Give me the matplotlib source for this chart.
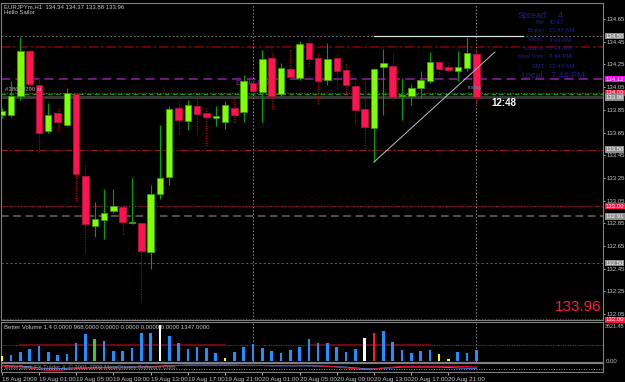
import numpy as np
import matplotlib
matplotlib.use("Agg")
from matplotlib import pyplot as plt
from matplotlib.transforms import blended_transform_factory

plt.rcParams['font.family'] = ['Liberation Sans', 'DejaVu Sans']

# EURJPYm, H1 bars from 18 Aug 2009 21:00 to 21 Aug 00:00
open_ = [133.80, 133.80, 133.97, 134.37, 134.07, 133.66, 133.82, 133.72, 133.99, 133.27,
         132.83, 132.88, 132.96, 132.99, 132.85, 132.85, 132.60, 133.11, 133.26, 133.87,
         133.75, 133.88, 133.82, 133.78, 133.74, 133.87, 133.83, 134.09, 134.01, 134.31,
         133.99, 134.21, 134.13, 134.44, 134.31, 134.11, 134.31, 134.20, 134.06, 133.86,
         133.69, 134.23, 134.24, 133.97, 133.97, 134.04, 134.10, 134.27, 134.23, 134.19,
         134.22, 134.34]
high = [133.87, 134.10, 134.49, 134.39, 134.14, 133.91, 133.87, 134.04, 134.00, 133.36,
        133.04, 133.15, 133.15, 133.00, 133.25, 132.86, 133.19, 133.72, 133.88, 133.94,
        133.94, 133.97, 133.87, 133.88, 133.93, 133.95, 134.16, 134.11, 134.38, 134.36,
        134.26, 134.39, 134.46, 134.51, 134.35, 134.44, 134.35, 134.26, 134.10, 134.11,
        134.22, 134.39, 134.35, 134.13, 134.08, 134.19, 134.36, 134.29, 134.26, 134.37,
        134.49, 134.37]
low = [133.78, 133.79, 133.94, 134.04, 133.48, 133.65, 133.66, 133.71, 133.05, 132.60,
       132.73, 132.71, 132.94, 132.76, 132.84, 132.16, 132.45, 133.06, 133.19, 133.64,
       133.67, 133.64, 133.53, 133.71, 133.68, 133.74, 133.74, 134.00, 133.74, 133.86,
       133.97, 134.13, 134.11, 134.24, 133.90, 134.07, 134.04, 133.96, 133.73, 133.51,
       133.39, 133.80, 133.94, 133.76, 133.89, 133.95, 134.09, 134.16, 134.19, 134.10,
       134.19, 133.88]
close = [133.84, 133.97, 134.37, 134.08, 133.65, 133.80, 133.74, 134.00, 133.28, 132.84,
         132.89, 132.94, 133.00, 132.86, 132.86, 132.61, 133.11, 133.25, 133.86, 133.76,
         133.89, 133.81, 133.79, 133.79, 133.89, 133.80, 134.10, 134.02, 134.30, 133.97,
         134.22, 134.14, 134.43, 134.30, 134.10, 134.30, 134.19, 134.07, 133.85, 133.70,
         134.21, 134.26, 133.96, 133.98, 134.04, 134.11, 134.27, 134.21, 134.20, 134.23,
         134.35, 133.96]

# Better Volume 1.4
volume = [500, 600, 930, 1200, 1500, 930, 600, 670, 1770, 2700,
          2200, 2030, 1030, 1000, 1330, 2830, 2770, 3600, 2530, 1830,
          1200, 1370, 1270, 830, 330, 900, 1430, 1670, 1330, 1030,
          770, 1100, 1430, 2170, 1850, 1770, 1430, 930, 1170, 2330,
          2770, 3000, 1930, 1100, 830, 1030, 1100, 670, 200, 870,
          830, 1100]
volume_kind = ['low', 'n', 'n', 'n', 'n', 'n', 'n', 'n', 'n', 'n',
               'churn', 'n', 'n', 'n', 'n', 'n', 'n', 'climax_dn', 'n', 'n',
               'n', 'n', 'n', 'n', 'low', 'n', 'n', 'n', 'n', 'n',
               'n', 'n', 'n', 'n', 'n', 'n', 'n', 'n', 'n', 'climax_dn',
               'climax_up', 'n', 'n', 'n', 'n', 'n', 'n', 'low', 'low', 'n',
               'n', 'n']
volume_avg = 1600
volume_max = 3621.45

# lower oscillator window
osc_red = [2.5, 2.5, 2.5, 1, -1, -2, -2, -1, 0, 0.5,
           1, 1, 1, 1.5, 1.5, 2, 2, 3, 3.5, 4,
           4, 4, 4, 4, 4, 4, 4, 4, 4, 4,
           4, 4, 4, 4, 3.5, 3, 2, 1, 0, -1,
           -0.5, 1, 2, 3, 3, 3, 3, 3, 3, 3,
           2.5, 2]
osc_blue = [3.5, 3.5, 3, 2.5, 1, 0, 0, 0.5, 1, 1,
            1.5, 1.5, 2, 2, 2, 2.5, 2.5, 3, 3.5, 4,
            4.5, 4.5, 4.5, 4.5, 4.5, 4.5, 4, 4, 4, 3.5,
            3.5, 3.5, 3.5, 3.5, 3, 3, 2.5, 2, 1, 0,
            0, 0.5, 1, 2, 2, 2, 2, 2, 1.5, 1,
            0.5, 0.5]

price_ticks = [134.65, 134.45, 134.25, 134.05, 133.85, 133.65, 133.45, 133.25,
               133.05, 132.85, 132.65, 132.45, 132.25, 132.05]
time_label_bars = [0, 4, 8, 12, 16, 20, 24, 28, 32, 36, 40, 44, 48]
time_labels = ['18 Aug 2009', '19 Aug 01:00', '19 Aug 05:00', '19 Aug 09:00', '19 Aug 13:00',
               '19 Aug 17:00', '19 Aug 21:00', '20 Aug 01:00', '20 Aug 05:00', '20 Aug 09:00',
               '20 Aug 13:00', '20 Aug 17:00', '20 Aug 21:00']

day_separators = [27, 51]
trend_x = [40, 53]
trend_y = [133.39, 134.36]
high_line_x = [40, 56]
high_line = 134.50
r_level = 134.40
pivot = 134.12
order_level = 134.00
bid = 133.96
s_level = 133.50
order_sl = 133.00
mid_level = 132.91
half_level = 132.50
low_level = 132.00

W, H = 625, 382
BG = 'black'
GRID = '#808080'
TXT = '#c8c8c8'
FS = 4.3


def frac(x0, y0, x1, y1):
    return [x0 / W, 1 - y1 / H, (x1 - x0) / W, (y1 - y0) / H]


fig = plt.figure(figsize=(W / 100, H / 100), dpi=100, facecolor=BG)
ax = fig.add_axes(frac(1.5, 3, 603, 320))
axv = fig.add_axes(frac(1.5, 322, 603, 362), sharex=ax)
axs = fig.add_axes(frac(1.5, 363, 603, 372), sharex=ax)

o, h, l, c = map(np.array, (open_, high, low, close))
xs = np.arange(len(o))
bull = c >= o

for a in (ax, axv, axs):
    a.set_facecolor(BG)
    for s in a.spines.values():
        s.set_color(GRID)
        s.set_linewidth(0.8)
ax.set_xlim(-0.02, 64.6)
ax.set_ylim(131.998, 134.791)

# level lines
full = dict(zorder=1)
ax.axhline(high_line, color='#707070', lw=0.7, ls=(0, (2, 2)), **full)
ax.plot(high_line_x, [high_line, high_line], color='#e0e0e0', lw=0.9, zorder=2)
ax.axhline(r_level, color='#8b0000', lw=1.1, ls=(0, (6, 2, 1.5, 2)), **full)
ax.axhline(pivot, color='#7a1a8a', lw=1.3, ls=(0, (5, 3)), **full)
ax.axhline(order_level, color='#ff2040', lw=0.8, ls=(0, (1, 1.5)), **full)
ax.axhline(order_level - 0.012, color='#00a000', lw=0.8, ls=(0, (4, 3)), **full)
ax.axhline(bid, color='#3c3c3c', lw=2.0, **full)
ax.axhline(s_level, color='#a01818', lw=0.8, ls=(0, (6, 2, 1.5, 2)), **full)
ax.axhline(order_sl, color='#d01048', lw=0.8, ls=(0, (1, 1.5)), **full)
ax.axhline(mid_level, color='#666666', lw=1.1, ls=(0, (5, 3)), **full)
ax.axhline(half_level, color='#4a5a6a', lw=0.8, ls=(0, (2, 2)), **full)
ax.axhline(low_level + 0.004, color='#c01040', lw=0.8, ls=(0, (1, 1.5)), **full)
for d in day_separators:
    ax.axvline(d, color='#8a8a8a', lw=0.7, ls=(0, (1.5, 2)), zorder=1)
    axv.axvline(d, color='#8a8a8a', lw=0.7, ls=(0, (1.5, 2)), zorder=1)

ax.plot(trend_x, trend_y, color='#c0c0c0', lw=0.7, zorder=4)

# candles
ax.vlines(xs[bull], l[bull], h[bull], color='#00a000', lw=0.8, zorder=3)
ax.vlines(xs[~bull], l[~bull], h[~bull], color='#b00000', lw=0.8,
          linestyles=(0, (1.2, 1)), zorder=3)
body = np.maximum(np.abs(c - o), 0.012)
ax.bar(xs, body, bottom=np.minimum(o, c), width=0.7,
       color=np.where(bull, '#7fff00', '#ff1450'),
       edgecolor=np.where(bull, '#3c9c00', '#b8103a'), lw=0.6, zorder=3)

# texts on main chart
ax.text(25.2, 134.086, 'Daily Pivot', color='#a010c0', fontsize=6, va='center', zorder=2)
ax.text(0.4, 134.03, '#38684290 sl', color='#a8a8a8', fontsize=FS, va='center', zorder=4)
ax.text(50.1, 134.05, 'today', color='#6a88a8', fontsize=FS, va='center', zorder=4)
ax.text(54.0, 133.91, '12:48', color='white', fontsize=7, fontweight='bold',
        ha='center', va='center', zorder=5)
ax.text(0.997, 0.02, '133.96', transform=ax.transAxes, color='#ff1744', fontsize=11,
        ha='right', va='bottom')

# right price scale
ax.yaxis.tick_right()
ax.set_yticks(price_ticks)
ax.set_yticklabels([f'{p:.2f}' for p in price_ticks])
ax.tick_params(axis='y', colors=TXT, labelsize=FS, length=1.5, pad=0.8, width=0.6)
ax.tick_params(axis='x', bottom=False, labelbottom=False)
tr = blended_transform_factory(ax.transAxes, ax.transData)
boxes = [(high_line, '#8c8c8c'), (pivot, '#ff00ff'), (order_level, '#ff1744'),
         (bid, '#8c8c8c'), (s_level, '#8c8c8c'), (order_sl, '#ff1744'),
         (mid_level, '#8c8c8c'), (half_level, '#8c8c8c'), (low_level, '#ff1744')]
for p, bg in boxes:
    ax.text(1.004, p, f'{p:.2f}', transform=tr, fontsize=FS, color='white', va='center',
            ha='left', clip_on=False, zorder=6,
            bbox=dict(fc=bg, ec='none', boxstyle='square,pad=0.12'))

# info panel
info = [('Bar', '40:47', 23), ('Broker', '10:47 AM', 31), ('Tokyo:', '9:44 AM', 40),
        ('London:', '1:44 AM', 49), ('New York:', '8:44 PM', 57), ('GMT', '12:44 AM', 66)]
navy = '#20208c'
fig.text(518 / W, 1 - 15 / H, 'Spread', color=navy, fontsize=6.5, va='center')
fig.text(558 / W, 1 - 15 / H, '4', color=navy, fontsize=6.5, va='center')
for lab, val, y in info:
    fig.text(545 / W, 1 - y / H, lab, color=navy, fontsize=FS, va='center', ha='right')
    fig.text(549 / W, 1 - y / H, val, color=navy, fontsize=FS, va='center')
fig.text(545 / W, 1 - 75 / H, 'Local:', color=navy, fontsize=6.5, va='center', ha='right')
fig.text(551 / W, 1 - 75 / H, '7:44 PM', color=navy, fontsize=6.5, va='center')

fig.text(4 / W, 1 - 6.5 / H, 'EURJPYm,H1  134.34 134.37 133.88 133.96', color=TXT,
         fontsize=FS, va='center')
fig.text(4 / W, 1 - 13 / H, 'Hello Sailor', color=TXT, fontsize=FS, va='center')

# volume window
vcol = {'n': '#1e90ff', 'low': '#ffff00', 'churn': '#32cd32',
        'climax_dn': '#ffffff', 'climax_up': '#ff1a3c'}
axv.bar(xs, volume, width=0.28, color=[vcol[k] for k in volume_kind], zorder=3)
axv.axhline(volume_avg, color='#e01020', lw=0.7, ls=(0, (1, 1.5)), zorder=2)
axv.plot([2, 24], [volume_avg, volume_avg], color='#6a0a0a', lw=1.6, zorder=2)
axv.plot([33, 46], [volume_avg, volume_avg], color='#6a0a0a', lw=1.6, zorder=2)
axv.set_ylim(-100, 3920)
axv.set_yticks([])
axv.tick_params(axis='x', bottom=False, labelbottom=False)
axv.text(0.004, 0.86, 'Better Volume 1.4 0.0000 968.0000 0.0000 0.0000 0.0000 0.0000 1347.0000',
         transform=axv.transAxes, color=TXT, fontsize=FS, va='center')
vtr = blended_transform_factory(axv.transAxes, axv.transData)
axv.text(1.003, volume_max * 0.97, f'{volume_max:.2f}', transform=vtr, color=TXT,
         fontsize=3.9, va='center', clip_on=False)
axv.text(1.005, 0, '0.00', transform=vtr, color=TXT, fontsize=FS, va='center', clip_on=False)

# bottom oscillator window
axs.plot(xs, osc_blue, color='#3a7ad0', lw=0.8)
axs.plot(xs, osc_red, color='#e01030', lw=0.8)
axs.axhline(0, color='#c0c0c0', lw=0.6, ls=(0, (1, 2)))
axs.set_ylim(-4, 7)
axs.set_yticks([])
axs.text(0.006, 0.55, 'EnterBank FX Trader 4, \u00a9 2001-2009 MetaQuotes Software Corp.',
         transform=axs.transAxes, color='#909090', fontsize=4.2, va='center')
axs.set_xticks(time_label_bars)
axs.set_xticklabels(time_labels, ha='left')
axs.tick_params(axis='x', colors=TXT, labelsize=4.5, length=2, pad=1.5, width=0.6)

fig.savefig('out.png', dpi=100, facecolor=BG)
